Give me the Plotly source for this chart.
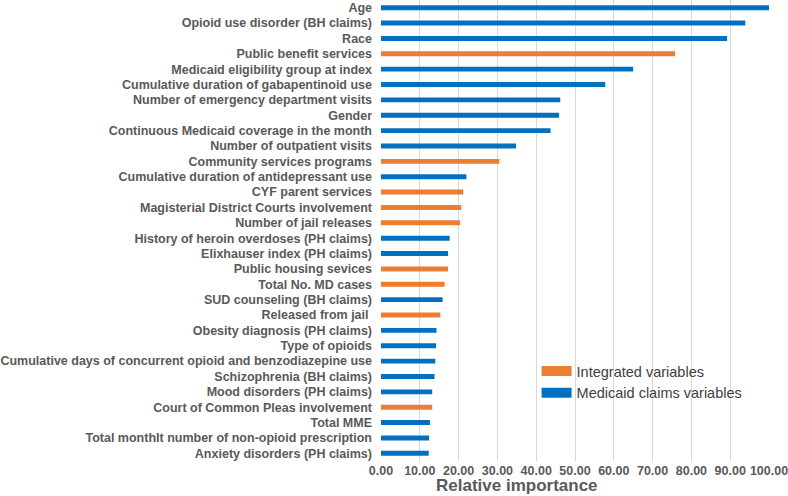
import plotly.graph_objects as go

categories = [
    "Age", "Opioid use disorder (BH claims)", "Race", "Public benefit services",
    "Medicaid eligibility group at index", "Cumulative duration of gabapentinoid use",
    "Number of emergency department visits", "Gender",
    "Continuous Medicaid coverage in the month", "Number of outpatient visits",
    "Community services programs", "Cumulative duration of antidepressant use",
    "CYF parent services", "Magisterial District Courts involvement",
    "Number of jail releases", "History of heroin overdoses (PH claims)",
    "Elixhauser index (PH claims)", "Public housing sevices", "Total No. MD cases",
    "SUD counseling (BH claims)", "Released from jail ", "Obesity diagnosis (PH claims)",
    "Type of opioids", "Cumulative days of concurrent opioid and benzodiazepine use",
    "Schizophrenia (BH claims)", "Mood disorders (PH claims)",
    "Court of Common Pleas involvement", "Total MME",
    "Total monthlt number of non-opioid prescription", "Anxiety disorders (PH claims)",
]
importance = [
    100.0, 93.9, 89.2, 75.8, 65.0, 57.8, 46.2, 45.9, 43.7, 34.8,
    30.5, 22.0, 21.2, 20.7, 20.4, 17.7, 17.3, 17.3, 16.4, 15.9,
    15.3, 14.3, 14.2, 14.0, 13.8, 13.2, 13.2, 12.6, 12.4, 12.3,
]
group = [
    "M", "M", "M", "I", "M", "M", "M", "M", "M", "M",
    "I", "M", "I", "I", "I", "M", "M", "I", "I", "M",
    "I", "M", "M", "M", "M", "M", "I", "M", "M", "M",
]
x_ticks = [0, 10, 20, 30, 40, 50, 60, 70, 80, 90, 100]
legend_names = {"I": "Integrated variables", "M": "Medicaid claims variables"}
colors = {"I": "#ED7D31", "M": "#0070C0"}

FONT = "Liberation Sans, Arial, sans-serif"
GRAY = "#595959"

fig = go.Figure()
for g in ["I", "M"]:
    ys = [c for c, gg in zip(categories, group) if gg == g]
    xs = [v for v, gg in zip(importance, group) if gg == g]
    fig.add_trace(go.Bar(
        x=xs, y=ys, orientation="h", width=0.32,
        marker=dict(color=colors[g], line=dict(width=0)),
        showlegend=False, hoverinfo="x+y",
    ))
# legend proxies
for g in ["I", "M"]:
    fig.add_trace(go.Scatter(
        x=[None], y=[None], mode="lines", name=legend_names[g],
        line=dict(color=colors[g], width=10), legendgroup=g,
    ))

fig.update_layout(
    width=788, height=496,
    margin=dict(l=381, r=19, t=0, b=35, autoexpand=False),
    paper_bgcolor="white", plot_bgcolor="white",
    barmode="overlay",
    font=dict(family=FONT, color=GRAY, size=12),
    legend=dict(
        x=0.401, y=0.230, xanchor="left", yanchor="top",
        bgcolor="rgba(0,0,0,0)", tracegroupgap=0,
        font=dict(family=FONT, size=14.5, color="#404040"),
    ),
    xaxis=dict(
        range=[0, 100], tickvals=x_ticks,
        ticktext=[f"{v:.2f}" for v in x_ticks],
        showgrid=True, gridcolor="#D9D9D9", gridwidth=1,
        zeroline=False, showline=False, automargin=False,
        ticklabeloverflow="allow",
        tickfont=dict(family=FONT, size=12.5, color=GRAY, weight="bold"),
        fixedrange=True,
    ),
    yaxis=dict(
        categoryorder="array", categoryarray=categories,
        autorange="reversed", showgrid=False, zeroline=False,
        automargin=False,
        tickfont=dict(family=FONT, size=12.5, color=GRAY, weight="bold"),
        ticklabelstandoff=8, fixedrange=True,
    ),
    annotations=[dict(
        text="Relative importance", xref="paper", yref="paper",
        x=(517 - 381) / 388, y=-0.054, xanchor="center", yanchor="middle",
        showarrow=False,
        font=dict(family=FONT, size=17, color=GRAY, weight="bold"),
    )],
)

fig.write_html(
    "out.html",
    config={"displayModeBar": False},
    post_script="document.body.style.margin='0';",
)
